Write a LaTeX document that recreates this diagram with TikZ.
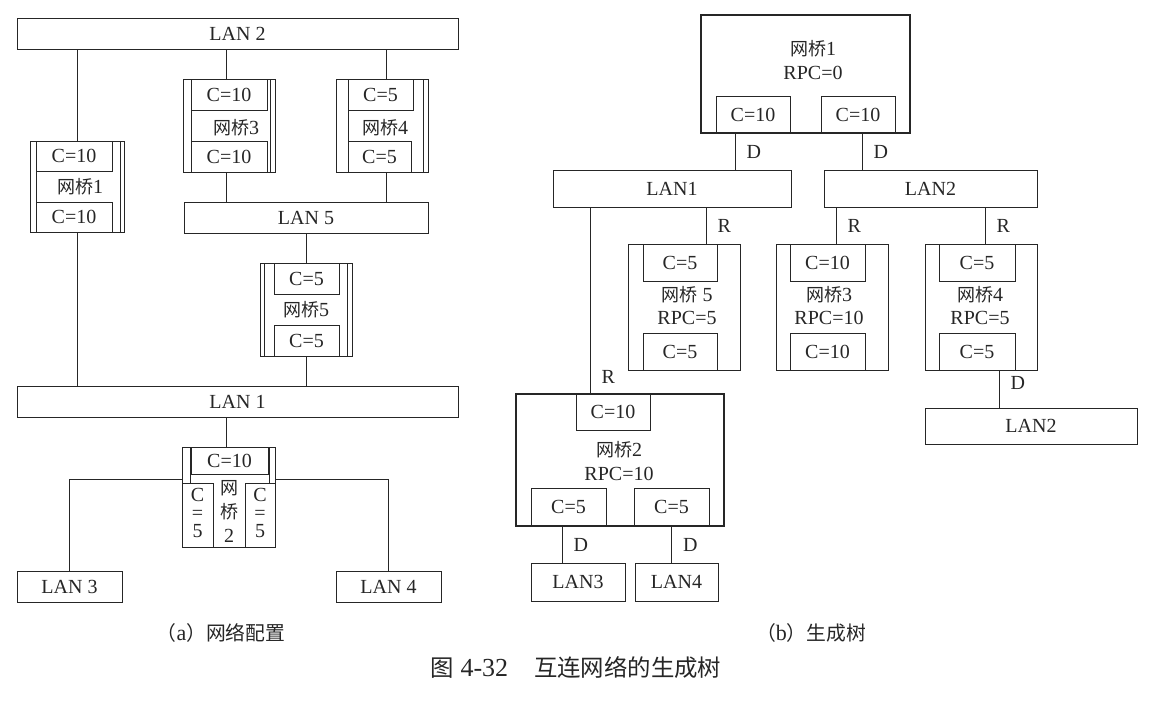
\documentclass[tikz,border=0pt]{standalone}
\usepackage{fontspec}
\setmainfont{Liberation Serif}
\newfontfamily\cjk[Scale=0.9]{Noto Sans CJK SC}
\usetikzlibrary{calc}
\definecolor{ink}{HTML}{262626}
\newcommand{\wq}{{\cjk 网桥}}

\begin{document}
\begin{tikzpicture}[x=1pt,y=-1pt,line width=1pt,color=ink,
  every node/.style={font=\fontsize{20}{22}\selectfont},
  box/.style={draw=ink,rectangle,inner sep=0pt},
  lbl/.style={right=11pt,inner sep=0pt}]

\useasboundingbox (0,0) rectangle (1158,704);

% (a) 网络配置: các LAN
\node[box,minimum width=441pt,minimum height=31pt] (lan2a) at (237.5,33.5) {LAN 2};
\node[box,minimum width=244pt,minimum height=31pt] (lan5a) at (306,217.5) {LAN 5};
\node[box,minimum width=441pt,minimum height=31pt] (lan1a) at (237.5,401.5) {LAN 1};
\node[box,minimum width=105pt,minimum height=31pt] (lan3a) at (69.5,586.5) {LAN 3};
\node[box,minimum width=105pt,minimum height=31pt] (lan4a) at (388.5,586.5) {LAN 4};

% 网桥1
\node[box,minimum width=94pt,minimum height=91pt] (b1a) at (77,186.5) {};
\draw (36,141) -- (36,232) (120,141) -- (120,232);
\node[box,minimum width=76pt,minimum height=30pt] (p1at) at (74,156) {C=10};
\node[box,minimum width=76pt,minimum height=30pt] (p1ab) at (74,217) {C=10};
\node (t1a) at (80,187) {\wq1};

% 网桥3
\node[box,minimum width=92pt,minimum height=93pt] (b3a) at (229,125.5) {};
\draw (191,79) -- (191,172) (270,79) -- (270,172);
\node[box,minimum width=76pt,minimum height=31pt] (p3at) at (229,94.5) {C=10};
\node[box,minimum width=76pt,minimum height=31pt] (p3ab) at (229,156.5) {C=10};
\node (t3a) at (236,128) {\wq3};

% 网桥4
\node[box,minimum width=92pt,minimum height=93pt] (b4a) at (382,125.5) {};
\draw (348,79) -- (348,172) (423,79) -- (423,172);
\node[box,minimum width=65pt,minimum height=31pt] (p4at) at (380.5,94.5) {C=5};
\node[box,minimum width=63pt,minimum height=31pt] (p4ab) at (379.5,156.5) {C=5};
\node (t4a) at (385,128) {\wq4};

% 网桥5
\node[box,minimum width=92pt,minimum height=93pt] (b5a) at (306,309.5) {};
\draw (264,263) -- (264,356) (347,263) -- (347,356);
\node[box,minimum width=65pt,minimum height=31pt] (p5at) at (306.5,278.5) {C=5};
\node[box,minimum width=65pt,minimum height=31pt] (p5ab) at (306.5,340.5) {C=5};
\node (t5a) at (306,310) {\wq5};

% 网桥2
\node[box,minimum width=93pt,minimum height=100pt] (b2a) at (228.5,497) {};
\node[box,minimum width=77pt,minimum height=27pt] (p2at) at (229.5,460.5) {C=10};
\draw (190,447) -- (190,483) (269,447) -- (269,483);
\draw (182,483) -- (213,483) (245,483) -- (275,483);
\draw (213,483) -- (213,547) (245,483) -- (245,547);
\node[align=center,font=\fontsize{20}{18}\selectfont] (p2al) at (197.5,513) {C\\=\\5};
\node[align=center,font=\fontsize{20}{18}\selectfont] (p2ar) at (260,513) {C\\=\\5};
\node[align=center,font=\fontsize{20}{24}\selectfont] (t2a) at (229,511) {{\cjk 网}\\{\cjk 桥}\\2};

% đường nối (a)
\draw (b1a.north) -- (b1a.north |- lan2a.south);
\draw (b1a.south) -- (b1a.south |- lan1a.north);
\draw ($(b3a.north)+(-3,0)$) -- ($(b3a.north |- lan2a.south)+(-3,0)$);
\draw ($(b3a.south)+(-3,0)$) -- ($(b3a.south |- lan5a.north)+(-3,0)$);
\draw ($(b4a.north)+(4,0)$) -- ($(b4a.north |- lan2a.south)+(4,0)$);
\draw ($(b4a.south)+(4,0)$) -- ($(b4a.south |- lan5a.north)+(4,0)$);
\draw (b5a.north) -- (b5a.north |- lan5a.south);
\draw (b5a.south) -- (b5a.south |- lan1a.north);
\draw ($(b2a.north)+(-2.5,0)$) -- ($(b2a.north |- lan1a.south)+(-2.5,0)$);
\draw ([yshift=18pt]b2a.west) -| (lan3a.north);
\draw ([yshift=18pt]b2a.east) -| (lan4a.north);

\node (capa) at (221,633) {\fontsize{22}{24}\selectfont{\cjk （}a{\cjk ）网络配置}};

% (b) 生成树: 网桥1
\node[box,minimum width=74pt,minimum height=37pt] (p1bl) at (753,114.5) {C=10};
\node[box,minimum width=74pt,minimum height=37pt] (p1br) at (858,114.5) {C=10};
\node[box,line width=1.4pt,minimum width=209pt,minimum height=118pt] (b1b) at (805.5,74) {};
\node (t1b) at (813,49) {\wq1};
\node (r1b) at (813,73) {RPC=0};

\node[box,minimum width=238pt,minimum height=37pt] (lan1b) at (672,188.5) {LAN1};
\node[box,minimum width=213pt,minimum height=37pt] (lan2b) at (930.5,188.5) {LAN2};

% 网桥5
\node[box,minimum width=112pt,minimum height=126pt] (b5b) at (684,307) {};
\node[box,minimum width=74pt,minimum height=37pt] (p5bt) at (680,262.5) {C=5};
\node[box,minimum width=74pt,minimum height=37pt] (p5bb) at (680,351.5) {C=5};
\node (t5b) at (687,295) {\wq\ 5};
\node (r5b) at (687,318) {RPC=5};

% 网桥3
\node[box,minimum width=112pt,minimum height=126pt] (b3b) at (832,307) {};
\node[box,minimum width=75pt,minimum height=37pt] (p3bt) at (827.5,262.5) {C=10};
\node[box,minimum width=75pt,minimum height=37pt] (p3bb) at (827.5,351.5) {C=10};
\node (t3b) at (829,295) {\wq3};
\node (r3b) at (829,318) {RPC=10};

% 网桥4
\node[box,minimum width=112pt,minimum height=126pt] (b4b) at (981,307) {};
\node[box,minimum width=76pt,minimum height=37pt] (p4bt) at (977,262.5) {C=5};
\node[box,minimum width=76pt,minimum height=37pt] (p4bb) at (977,351.5) {C=5};
\node (t4b) at (980,295) {\wq4};
\node (r4b) at (980,318) {RPC=5};
\node[box,minimum width=212pt,minimum height=36pt] (lan2c) at (1031,426) {LAN2};

% 网桥2
\node[box,minimum width=74pt,minimum height=36pt] (p2bt) at (613,412) {C=10};
\node[box,minimum width=75pt,minimum height=38pt] (p2bl) at (568.5,507) {C=5};
\node[box,minimum width=75pt,minimum height=38pt] (p2br) at (671.5,507) {C=5};
\node[box,line width=1.4pt,minimum width=208pt,minimum height=132pt] (b2b) at (620,460) {};
\node (t2b) at (619,450) {\wq2};
\node (r2b) at (619,474) {RPC=10};
\node[box,minimum width=94pt,minimum height=38pt] (lan3b) at (578,582) {LAN3};
\node[box,minimum width=83pt,minimum height=38pt] (lan4b) at (676.5,582) {LAN4};

% đường nối (b)
\draw ($(p1bl.south)+(-18,0)$) -- node[lbl]{D} ($(p1bl.south |- lan1b.north)+(-18,0)$);
\draw ($(p1br.south)+(4,0)$) -- node[lbl]{D} ($(p1br.south |- lan2b.north)+(4,0)$);
\draw ($(p5bt.north |- lan1b.south)+(26,0)$) -- node[lbl]{R} ($(p5bt.north)+(26,0)$);
\draw ($(p3bt.north |- lan2b.south)+(8.5,0)$) -- node[lbl]{R} ($(p3bt.north)+(8.5,0)$);
\draw ($(p4bt.north |- lan2b.south)+(8,0)$) -- node[lbl]{R} ($(p4bt.north)+(8,0)$);
\draw ($(p4bb.south)+(22,0)$) -- node[lbl,pos=0.35]{D} ($(p4bb.south |- lan2c.north)+(22,0)$);
\draw ($(p2bt.north |- lan1b.south)+(-23,0)$) -- node[lbl,pos=0.91]{R} ($(p2bt.north)+(-23,0)$);
\draw ($(p2bl.south)+(-6.5,0)$) -- node[lbl]{D} ($(p2bl.south |- lan3b.north)+(-6.5,0)$);
\draw (p2br.south) -- node[lbl]{D} (p2br.south |- lan4b.north);

\node (capb) at (811,633) {\fontsize{22}{24}\selectfont{\cjk （}b{\cjk ）生成树}};
\node (cap) at (576,668) {\fontsize{26}{28}\selectfont{\cjk 图} 4-32\quad{\cjk 互连网络的生成树}};

\end{tikzpicture}
\end{document}
